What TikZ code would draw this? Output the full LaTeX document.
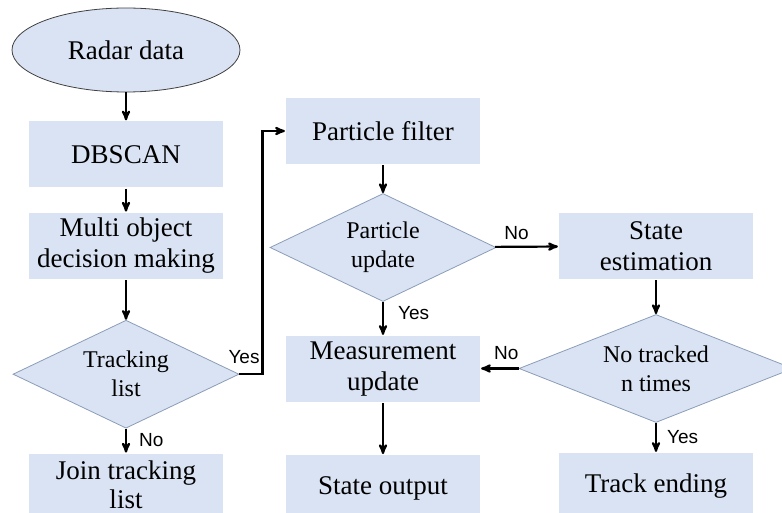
\documentclass[tikz,border=0pt]{standalone}
\usepackage{fontspec}
\setmainfont{Liberation Serif}
\newfontfamily\labelfont{Liberation Sans}
\usetikzlibrary{shapes.geometric, arrows, positioning}
\definecolor{boxblue}{HTML}{DAE3F3}
\definecolor{diaedge}{HTML}{8B9DB8}
\definecolor{ovaledge}{HTML}{404040}

\begin{document}
\begin{tikzpicture}[->, >=stealth', line width=2.2pt, node distance=26pt]
  \tikzstyle{block} = [rectangle, fill=boxblue, minimum width=194pt, minimum height=66pt, align=center, inner sep=2pt, font=\fontsize{27}{30.5}\selectfont]
  \tikzstyle{decision} = [diamond, draw=diaedge, line width=0.8pt, fill=boxblue, minimum width=226pt, minimum height=108pt, aspect=2, align=center, inner sep=0pt, font=\fontsize{24}{29}\selectfont]
  \tikzstyle{start} = [ellipse, draw=ovaledge, line width=0.8pt, fill=boxblue, minimum width=228pt, minimum height=84pt, font=\fontsize{27}{31}\selectfont]
  \tikzstyle{answer} = [inner sep=2pt, font=\labelfont\fontsize{19}{22}\selectfont]

  \useasboundingbox (0,0) rectangle (782pt,-513pt);

  % left column
  \node[start] (radar) at (126pt,-50pt) {Radar data};
  \node[block, below=28pt of radar] (dbscan) {DBSCAN};
  \node[block, below=23pt of dbscan] (multi) {Multi object\\decision making};
  \node[decision, below=40pt of multi] (track) {Tracking\\list};
  \node[block, minimum height=62pt, font=\fontsize{27}{28.5}\selectfont, below=24pt of track] (join) {Join tracking\\list};

  % middle column
  \node[block] (pfilter) at (383pt,-131pt) {Particle filter};
  \node[decision, below=28pt of pfilter] (pupdate) {Particle\\update};
  \node[block, below=33pt of pupdate] (measure) {Measurement\\update};
  \node[block, below=51pt of measure] (output) {State output};

  % right column
  \node[block] (estim) at (656pt,-246pt) {State\\estimation};
  \node[decision, minimum width=274pt, below=34pt of estim] (notrack) {No tracked\\n times};
  \node[block, below=29pt of notrack] (ending) {Track ending};

  \path
    (radar) edge (dbscan)
    (dbscan) edge (multi)
    (multi) edge (track)
    (track) edge node[answer, right=10pt, pos=0.46] {No} (join)
    (pfilter) edge (pupdate)
    (pupdate) edge node[answer, right=12pt, pos=0.33] {Yes} (measure)
    (measure) edge (output)
    (pupdate) edge node[answer, above=4pt, pos=0.34] {No} (estim)
    (estim) edge (notrack)
    (notrack) edge node[answer, right=8pt, pos=0.48] {Yes} (ending);
  \draw (notrack.west) -- node[answer, above=6pt, pos=0.33] {No} (notrack.west -| measure.east);
  \draw (track.east) -- node[answer, above=7pt, pos=0.2] {Yes} ++(23pt,0) |- (pfilter.west);
\end{tikzpicture}
\end{document}
